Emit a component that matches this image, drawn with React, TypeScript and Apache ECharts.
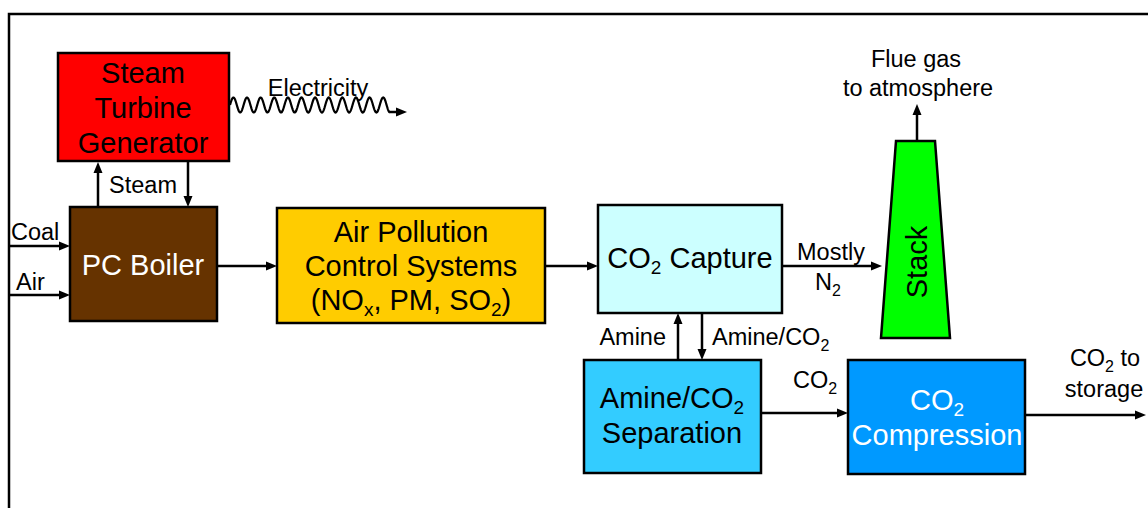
import React, { useEffect, useRef } from "react";
import * as echarts from "echarts";

const FONT = '"Liberation Sans", Arial, Helvetica, sans-serif';

// Text content of the diagram
const boxLabels = [
  "Steam\nTurbine\nGenerator",
  "PC Boiler",
  "Air Pollution\nControl Systems\n(NO{sub|x}, PM, SO{sub|2})",
  "CO{sub|2} Capture",
  "Amine/CO{sub|2}\nSeparation",
  "CO{sub|2}\nCompression",
];
const stackLabel = "Stack";
const flowLabels = [
  "Electricity",
  "Steam",
  "Coal",
  "Air",
  "Mostly",
  "N{sub|2}",
  "Flue gas",
  "to atmosphere",
  "Amine",
  "Amine/CO{sub|2}",
  "CO{sub|2}",
  "CO{sub|2} to",
  "storage",
];

// Layout (positions / styles)
const boxLayout = [
  { x: 58, y: 53, w: 171, h: 108, fill: "#FF0000", color: "#000", cx: 143, cy: 108, lh: 35 },
  { x: 70, y: 207, w: 147, h: 114, fill: "#663300", color: "#FFF", cx: 143, cy: 265, lh: 34 },
  { x: 277, y: 208, w: 268, h: 115, fill: "#FFCC00", color: "#000", cx: 411, cy: 266, lh: 34 },
  { x: 598, y: 205, w: 184, h: 108, fill: "#CCFFFF", color: "#000", cx: 690, cy: 258, lh: 34 },
  { x: 584, y: 360, w: 177, h: 113, fill: "#33CCFF", color: "#000", cx: 672, cy: 415, lh: 35 },
  { x: 848, y: 360, w: 177, h: 114, fill: "#0099FF", color: "#FFF", cx: 937, cy: 417, lh: 35 },
];
const flowLabelLayout = [
  { x: 318, y: 88, align: "center" },
  { x: 143, y: 185, align: "center" },
  { x: 11, y: 232, align: "left" },
  { x: 16, y: 282, align: "left" },
  { x: 831, y: 252, align: "center" },
  { x: 828, y: 282, align: "center" },
  { x: 916, y: 59, align: "center" },
  { x: 918, y: 88, align: "center" },
  { x: 666, y: 337, align: "right" },
  { x: 712, y: 337, align: "left" },
  { x: 815, y: 380, align: "center" },
  { x: 1105, y: 358, align: "center" },
  { x: 1104, y: 389, align: "center" },
];
const arrowLayout = [
  [98, 207, 98, 162],
  [188, 162, 188, 207],
  [9, 246, 70, 246],
  [9, 295, 70, 295],
  [217, 266, 277, 266],
  [545, 266, 598, 266],
  [782, 266, 882, 266],
  [917, 141, 917, 104],
  [678, 360, 678, 313],
  [702, 313, 702, 360],
  [761, 413, 848, 413],
  [1025, 415, 1146, 415],
  [390, 112, 407, 112],
];

function arrow(x1: number, y1: number, x2: number, y2: number) {
  const head = 11;
  const hw = 4.5;
  const dx = x2 - x1;
  const dy = y2 - y1;
  const L = Math.hypot(dx, dy);
  const ux = dx / L;
  const uy = dy / L;
  const bx = x2 - ux * head;
  const by = y2 - uy * head;
  return [
    {
      type: "line",
      shape: { x1, y1, x2: bx + ux * 2, y2: by + uy * 2 },
      style: { stroke: "#000", lineWidth: 2.5 },
    },
    {
      type: "polygon",
      shape: {
        points: [
          [x2, y2],
          [bx - uy * hw, by + ux * hw],
          [bx + uy * hw, by - ux * hw],
        ],
      },
      style: { fill: "#000" },
    },
  ];
}

function richSub(size: number, lh: number, pad: number, color: string) {
  return {
    sub: {
      fontSize: size,
      lineHeight: lh,
      padding: [pad, 0, 0, 0],
      verticalAlign: "middle",
      fontFamily: FONT,
      fill: color,
    },
  };
}

function wavePoints() {
  // decorative "electricity" squiggle
  const pts: number[][] = [];
  const x0 = 230;
  const x1 = 390;
  const periods = 11.75;
  const steps = 400;
  for (let i = 0; i <= steps; i++) {
    const t = i / steps;
    const x = x0 + (x1 - x0) * t;
    const y = 105 - 7.5 * Math.sin(2 * Math.PI * periods * t);
    pts.push([x, y]);
  }
  return pts;
}

export default function App() {
  const ref = useRef<HTMLDivElement>(null);
  useEffect(() => {
    if (!ref.current) return;
    const chart = echarts.init(ref.current, null, { renderer: "svg" });
    const elements: any[] = [];

    // frame
    elements.push({
      type: "polyline",
      shape: { points: [[9, 510], [9, 14], [1150, 14]] },
      style: { stroke: "#000", lineWidth: 2.5, fill: null },
    });

    // boxes
    boxLayout.forEach((b, i) => {
      elements.push({
        type: "rect",
        shape: { x: b.x, y: b.y, width: b.w, height: b.h },
        style: { fill: b.fill, stroke: "#000", lineWidth: 2.5 },
      });
      elements.push({
        type: "text",
        x: b.cx,
        y: b.cy,
        style: {
          text: boxLabels[i],
          align: "center",
          verticalAlign: "middle",
          fontSize: 29,
          fontFamily: FONT,
          lineHeight: b.lh,
          fill: b.color,
          rich: richSub(19, 14, 19, b.color),
        },
      });
    });

    // stack
    elements.push({
      type: "polygon",
      shape: { points: [[896, 141], [935, 141], [950, 338], [881, 338]] },
      style: { fill: "#00FF00", stroke: "#000", lineWidth: 2.5 },
    });
    elements.push({
      type: "text",
      x: 917,
      y: 262,
      rotation: Math.PI / 2,
      style: {
        text: stackLabel,
        align: "center",
        verticalAlign: "middle",
        fontSize: 29,
        fontFamily: FONT,
        fill: "#000",
      },
    });

    // electricity squiggle
    elements.push({
      type: "polyline",
      shape: { points: wavePoints() },
      style: { stroke: "#000", lineWidth: 2.2, fill: null },
    });

    // arrows
    arrowLayout.forEach((a) => {
      elements.push(...arrow(a[0], a[1], a[2], a[3]));
    });

    // flow labels
    flowLabels.forEach((t, i) => {
      const l = flowLabelLayout[i];
      elements.push({
        type: "text",
        x: l.x,
        y: l.y,
        style: {
          text: t,
          align: l.align,
          verticalAlign: "middle",
          fontSize: 23.5,
          fontFamily: FONT,
          lineHeight: 27,
          fill: "#000",
          rich: richSub(16, 10, 16, "#000"),
        },
      });
    });

    chart.setOption({
      animation: false,
      backgroundColor: "#fff",
      graphic: { elements },
    });
    return () => chart.dispose();
  }, []);
  return (
    <div
      ref={ref}
      style={{ position: "fixed", left: 0, top: 0, width: 1148, height: 508, background: "#fff" }}
    />
  );
}
